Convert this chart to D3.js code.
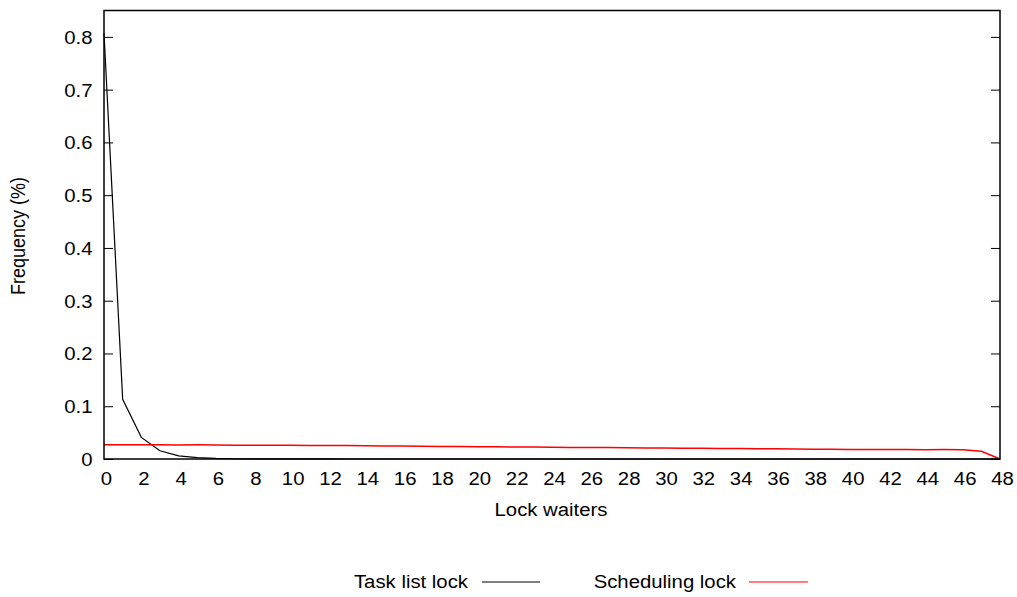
<!DOCTYPE html>
<html>
<head>
<meta charset="utf-8">
<script src="https://cdn.jsdelivr.net/npm/d3@7"></script>
<style>
  html, body { margin: 0; padding: 0; background: #fff; }
  svg text { font-family: "Liberation Sans", Arial, Helvetica, sans-serif; fill: #000; }
</style>
</head>
<body>
<svg id="chart" width="1017" height="597"></svg>
<script>
// Lock waiters (x) and frequency for each lock
const waiters = d3.range(0, 49);
const taskListLock = [
  0.807, 0.113, 0.041, 0.0155, 0.006, 0.0025, 0.001, 0.0005, 0.0003, 0.0002,
  0.0001, 0.0001, 0.0001, 0, 0, 0, 0, 0, 0, 0,
  0, 0, 0, 0, 0, 0, 0, 0, 0, 0,
  0, 0, 0, 0, 0, 0, 0, 0, 0, 0,
  0, 0, 0, 0, 0, 0, 0, 0, 0
];
const schedulingLock = [
  0.0270, 0.0270, 0.0268, 0.0268, 0.0267, 0.0268, 0.0266, 0.0262, 0.0262, 0.0260,
  0.0262, 0.0255, 0.0255, 0.0254, 0.0252, 0.0248, 0.0245, 0.0242, 0.0238, 0.0235,
  0.0233, 0.0232, 0.0228, 0.0226, 0.0224, 0.0220, 0.0218, 0.0216, 0.0213, 0.0210,
  0.0208, 0.0206, 0.0203, 0.0200, 0.0198, 0.0195, 0.0193, 0.0190, 0.0186, 0.0183,
  0.0180, 0.0180, 0.0181, 0.0179, 0.0177, 0.0178, 0.0176, 0.0145, 0.0
];
const xTicks = d3.range(0, 49, 2);
const yTicks = [0, 0.1, 0.2, 0.3, 0.4, 0.5, 0.6, 0.7, 0.8];
const seriesNames = ["Task list lock", "Scheduling lock"];
const seriesColors = ["#000000", "#ff0000"];

const plotLeft = 104, plotRight = 1000, plotTop = 10.5, plotBottom = 459;
const svg = d3.select("#chart");

const x = d3.scaleLinear().domain([0, 48]).range([plotLeft, plotRight]);
const y = d3.scaleLinear().domain([0, 0.85]).range([plotBottom, plotTop]);

const fontSize = 18;
const stretch = 1.13; // glyphs are set slightly wide

// Draw text widened horizontally about its anchor point
function wideText(parent, px, py, str, anchor) {
  return parent.append("text")
    .attr("transform", `translate(${px},${py}) scale(${stretch},1)`)
    .attr("text-anchor", anchor || "middle")
    .attr("font-size", fontSize)
    .text(str);
}

// Y axis: ticks on the left, mirrored inside on the right
const yAxisL = d3.axisLeft(y).tickValues(yTicks).tickSizeInner(-9).tickSizeOuter(0)
  .tickFormat(d => d === 0 ? "0" : d3.format(".1f")(d));
const gyl = svg.append("g").attr("transform", `translate(${plotLeft},0)`).call(yAxisL);
gyl.select(".domain").remove();
gyl.selectAll("line").attr("stroke", "#000").attr("stroke-width", 1);
gyl.selectAll("text").attr("font-size", fontSize).attr("dy", "0.36em")
  .attr("x", -11.5 / stretch).attr("transform", `scale(${stretch},1)`);

const yAxisR = d3.axisRight(y).tickValues(yTicks).tickSizeInner(-9).tickSizeOuter(0).tickFormat("");
const gyr = svg.append("g").attr("transform", `translate(${plotRight},0)`).call(yAxisR);
gyr.select(".domain").remove();
gyr.selectAll("line").attr("stroke", "#000").attr("stroke-width", 1);

// X axis: labels only
const xAxis = d3.axisBottom(x).tickValues(xTicks).tickSize(0).tickPadding(13).tickFormat(d3.format("d"));
const gx = svg.append("g").attr("transform", `translate(2,${plotBottom})`).call(xAxis);
gx.select(".domain").remove();
gx.selectAll("text").attr("font-size", fontSize).attr("transform", `scale(${stretch},1)`);

// Data lines
const line = d3.line().x((d, i) => x(waiters[i])).y(d => y(d));
[taskListLock, schedulingLock].forEach((s, k) => {
  svg.append("path").datum(s)
    .attr("fill", "none")
    .attr("stroke", seriesColors[k])
    .attr("stroke-width", k === 0 ? 1.2 : 1.5)
    .attr("d", line);
});

// Frame
svg.append("rect")
  .attr("x", plotLeft).attr("y", plotTop)
  .attr("width", plotRight - plotLeft).attr("height", plotBottom - plotTop)
  .attr("fill", "none").attr("stroke", "#000").attr("stroke-width", 1.5);

// Axis titles
wideText(svg, (plotLeft + plotRight) / 2 - 1, 516, "Lock waiters", "middle");
svg.append("text").attr("transform", `translate(25,236) scale(${stretch},1) rotate(-90)`)
  .attr("text-anchor", "middle").attr("font-size", fontSize).text("Frequency (%)");

// Legend
const legend = [
  { textEnd: 468, x1: 482, x2: 540 },
  { textEnd: 736, x1: 749, x2: 808 }
];
legend.forEach((l, k) => {
  wideText(svg, l.textEnd, 588, seriesNames[k], "end");
  svg.append("line").attr("x1", l.x1).attr("x2", l.x2).attr("y1", 582).attr("y2", 582)
    .attr("stroke", seriesColors[k]).attr("stroke-width", 1.2);
});
</script>
</body>
</html>
